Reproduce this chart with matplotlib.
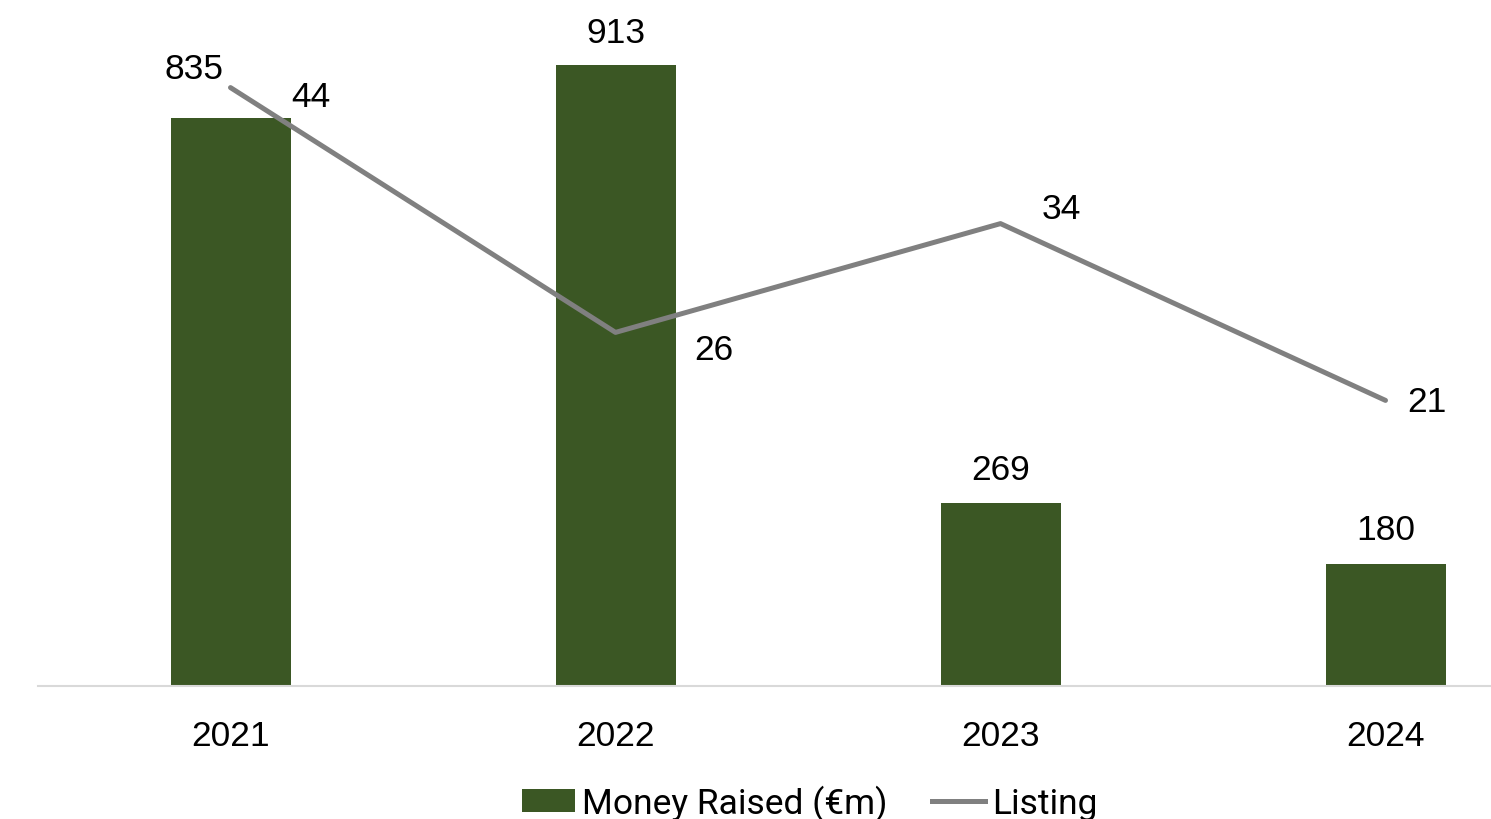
import matplotlib.pyplot as plt
from matplotlib.lines import Line2D
from matplotlib.patches import Patch

years = ["2021", "2022", "2023", "2024"]
money_raised = [835, 913, 269, 180]
listings = [44, 26, 34, 21]

bar_color = "#3B5724"
line_color = "#808080"

# label offsets in pixels (dx, dy) from the bar top / line point
bar_label_offsets = [(-37, 50), (0, 33), (0, 34), (0, 34)]
line_label_offsets = [(80, -9), (98, -17), (61, 15), (41, -1)]

FS = 25.5

plt.rcParams["font.family"] = ["Liberation Sans", "DejaVu Sans"]

fig = plt.figure(figsize=(14.91, 8.20), dpi=100)
W, H = 1491, 820
# axes runs past the right edge of the canvas so the last category sits near the border
ax = fig.add_axes([38 / W, 133 / H, 1540 / W, 680 / H])
x = list(range(len(years)))

ax.bar(x, money_raised, width=120 / 385, color=bar_color, zorder=2)
ax.set_xlim(-0.5, 3.5)
ax.set_ylim(0, 1000)

ax2 = ax.twinx()
ax2.plot(x, listings, color=line_color, linewidth=3.6, solid_capstyle="round", zorder=3)
ax2.set_ylim(0, 50)

for a in (ax, ax2):
    for side in ("top", "right", "left"):
        a.spines[side].set_visible(False)
    a.set_yticks([])
ax2.spines["bottom"].set_visible(False)
ax.spines["bottom"].set_color("#D9D9D9")
ax.spines["bottom"].set_linewidth(1.5)

ax.set_xticks(x)
ax.set_xticklabels(years, fontsize=FS)
ax.tick_params(axis="x", length=0, pad=24)

for xi, v, (dx, dy) in zip(x, money_raised, bar_label_offsets):
    ax.annotate(str(v), xy=(xi, v), xytext=(dx, dy), textcoords="offset pixels",
                ha="center", va="center", fontsize=FS)

for xi, v, (dx, dy) in zip(x, listings, line_label_offsets):
    ax2.annotate(str(v), xy=(xi, v), xytext=(dx, dy), textcoords="offset pixels",
                 ha="center", va="center", fontsize=FS)

handles = [Patch(facecolor=bar_color, label="Money Raised (€m)"),
           Line2D([0], [0], color=line_color, linewidth=3.6, label="Listing")]
fig.legend(handles=handles, loc="center", bbox_to_anchor=(810 / W, 16 / H), ncol=2,
           frameon=False, prop={"family": ["Roboto", "DejaVu Sans"], "size": FS},
           handlelength=1.5, handleheight=0.6, handletextpad=0.2, columnspacing=1.25)

fig.savefig("out.png", dpi=100)
